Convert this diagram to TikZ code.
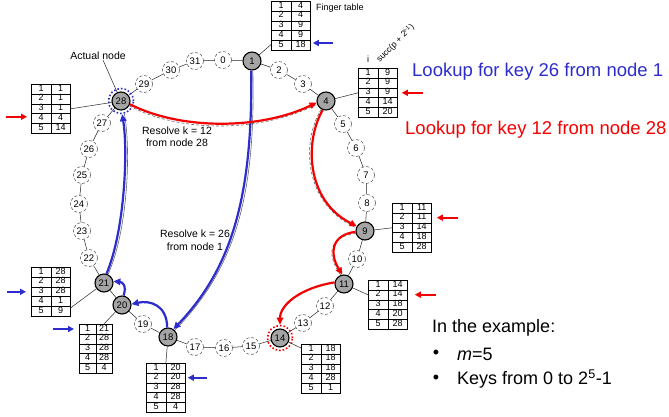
\documentclass[tikz,border=0pt]{standalone}
\usepackage{fontspec}
\setmainfont{Liberation Sans}
\usepackage{array}
\usetikzlibrary{arrows.meta}
\definecolor{lkblue}{RGB}{45,45,205}
\definecolor{lkred}{RGB}{245,0,0}
\definecolor{nodegray}{RGB}{165,165,165}
\newlength\ftw
\setlength\ftw{15pt}
\newcolumntype{C}{w{c}{\ftw}}
\newcommand\FT[5]{{\setlength\tabcolsep{2pt}\setlength\arrayrulewidth{0.6pt}\fontsize{9}{9.2}\selectfont
\begin{tabular}{|C|C|}\hline 1&#1\\\hline 2&#2\\\hline 3&#3\\\hline 4&#4\\\hline 5&#5\\\hline\end{tabular}}}
\tikzset{
  ringnode/.style={circle,draw=black!80,densely dashed,line width=0.45pt,fill=white,minimum size=17pt,inner sep=0pt,font=\fontsize{9.5}{9.5}\selectfont},
  realnode/.style={circle,draw=black,line width=1.1pt,fill=nodegray,minimum size=18pt,inner sep=0pt,font=\fontsize{9.5}{9.5}\selectfont},
  ringline/.style={draw=black!85,line width=0.5pt},
  ftab/.style={inner sep=0pt,outer sep=0pt},
  tabline/.style={draw=black!85,line width=0.5pt},
  bluepath/.style={draw=lkblue,line width=2.2pt,-{Triangle[length=7pt,width=6.5pt]}},
  redpath/.style={draw=lkred,line width=2.2pt,-{Triangle[length=7pt,width=6.5pt]}},
  graycomp/.style={draw=black!60,line width=0.6pt},
  graydash/.style={draw=black!60,line width=0.6pt,dashed,dash pattern=on 3pt off 2pt},
  sidearrow/.style={line width=1.8pt,-{Triangle[length=6pt,width=6pt]}},
  lbl/.style={inner sep=0pt,font=\fontsize{10.5}{12}\selectfont,align=center},
  big/.style={inner sep=0pt,font=\fontsize{18.5}{20}\selectfont},
}
\begin{document}
\begin{tikzpicture}[x=1pt,y=-1pt]
\fill[white] (0,0) rectangle (669,417);
\useasboundingbox (0,0) rectangle (669,417);

% ring nodes
\foreach \i/\x/\y in {0/223/60,2/279/70,3/303/84,5/343/124,6/356/148,7/366/175,8/367/203,10/357/259,12/325/306,13/303/323,15/251/346,16/224/348,17/195/347,19/143/324,22/89/258,23/82/231,24/79/204,25/82/175,26/89/149,27/102/123,29/144/84,30/171/70,31/195/61}
  \node[ringnode] (n\i) at (\x,\y) {\i};
\foreach \i/\x/\y in {1/252/61,4/326/101,9/365/231,11/344/284,14/280/338,18/168/337,20/122/305,21/104/283,28/121/101}
  \node[realnode] (n\i) at (\x,\y) {\i};
\foreach \a [evaluate=\a as \b using {int(mod(\a+1,32))}] in {0,...,31}
  \draw[ringline] (n\a) -- (n\b);

% dotted rings
\node[circle,draw=lkblue,dotted,line width=1.6pt,minimum size=25pt,inner sep=0pt] (r28) at (n28) {};
\node[circle,draw=lkred,dotted,line width=1.6pt,minimum size=25pt,inner sep=0pt] (r14) at (n14) {};

% finger tables
\node[ftab,anchor=north west] (t1) at (271,1) {\FT{4}{4}{9}{9}{18}};
\node[ftab,anchor=north west] (t28) at (31,84) {\FT{1}{1}{1}{4}{14}};
\node[ftab,anchor=north west] (t4) at (358,68) {\FT{9}{9}{9}{14}{20}};
\node[ftab,anchor=north west] (t21) at (31,267) {\FT{28}{28}{28}{1}{9}};
\node[ftab,anchor=north west] (t20) at (79,324) {\setlength\ftw{12pt}\FT{21}{28}{28}{28}{4}};
\node[ftab,anchor=north west] (t18) at (146,363) {\FT{20}{20}{28}{28}{4}};
\node[ftab,anchor=north west] (t14) at (301,344) {\FT{18}{18}{18}{28}{1}};
\node[ftab,anchor=north west] (t11) at (368,280) {\FT{14}{14}{18}{20}{28}};
\node[ftab,anchor=north west] (t9) at (392,203) {\FT{11}{11}{14}{18}{28}};

\draw[tabline] (n1) -- ([yshift=6pt]t1.south west);
\draw[tabline] (n28) -- (t28.east);
\draw[tabline] (n4) -- (t4.west);
\draw[tabline] (n21) -- ([yshift=-16pt]t21.east);
\draw[tabline] (n20) -- ([xshift=8pt]t20.north);
\draw[tabline] (n18) -- (t18.north);
\draw[tabline] (n14) -- ([yshift=-4pt]t14.north west);
\draw[tabline] (n11) -- ([yshift=10pt]t11.west);
\draw[tabline] (n9) -- (t9.west);

% labels near tables
\node[inner sep=0pt,anchor=west,font=\fontsize{9}{10}\selectfont] (ftl) at (316,8) {Finger table};
\node[inner sep=0pt,font=\fontsize{9}{10}\selectfont] (il) at (368,59) {i};
\node[inner sep=0pt,anchor=south west,rotate=45,font=\fontsize{8.5}{10}\selectfont] (sl) at (381,64) {succ(p + 2\textsuperscript{i-1})};
\node[inner sep=0pt,font=\fontsize{10.5}{12}\selectfont] (actual) at (98,56) {Actual node};
\draw[tabline] ([xshift=5pt]actual.south) -- (n28);

% side arrows
\draw[sidearrow,lkblue] ([xshift=22pt,yshift=7.6pt]t1.south east) -- ([xshift=2pt,yshift=7.6pt]t1.south east);
\draw[sidearrow,lkred] ([xshift=-25pt,yshift=-8pt]t28.west) -- ([xshift=-4pt,yshift=-8pt]t28.west);
\draw[sidearrow,lkred] ([xshift=25pt]t4.east) -- ([xshift=4pt]t4.east);
\draw[sidearrow,lkblue] ([xshift=-24pt]t21.west) -- ([xshift=-5pt]t21.west);
\draw[sidearrow,lkblue] ([xshift=-26pt,yshift=-5pt]t20.north west) -- ([xshift=-5pt,yshift=-5pt]t20.north west);
\draw[sidearrow,lkblue] ([xshift=21pt,yshift=-14.7pt]t18.north east) -- ([xshift=2pt,yshift=-14.7pt]t18.north east);
\draw[sidearrow,lkred] ([xshift=28pt,yshift=-14.7pt]t11.north east) -- ([xshift=7pt,yshift=-14.7pt]t11.north east);
\draw[sidearrow,lkred] ([xshift=26pt,yshift=-14.7pt]t9.north east) -- ([xshift=5pt,yshift=-14.7pt]t9.north east);

% companion lines
\draw[graycomp] (n1.-85) .. controls (256,200) and (233,271) .. (n18.45);
\draw[graycomp] (n21.65) .. controls (128,230) and (131,150) .. (r28.-75);
\draw[graydash] (n28.-30) .. controls (180,133) and (260,133) .. (n4.200);
\draw[graydash] (n4.-120) .. controls (302,140) and (302,203) .. (n9.160);
\draw[graydash] (n9.195) .. controls (327,237) and (327,256) .. (n11.110);

% lookup paths
\draw[bluepath] (n1.-95) .. controls (253,200) and (230,270) .. (n18.55);
\draw[bluepath] (n18.95) .. controls (167,305) and (150,300) .. (n20.5);
\draw[bluepath] (n20.80) .. controls (127,285) and (122,282) .. (n21.10);
\draw[bluepath] (n21.75) .. controls (125,230) and (128,150) .. (r28.-85);
\draw[redpath] (n28.-20) .. controls (180,130) and (260,130) .. (n4.190);
\draw[redpath] (n4.-110) .. controls (305,140) and (305,200) .. (n9.150);
\draw[redpath] (n9.185) .. controls (330,235) and (330,255) .. (n11.100);
\draw[redpath] (n11.170) .. controls (300,288) and (280,305) .. (r14.90);

% resolve labels
\node[lbl] (res12) at (177,137) {Resolve k = 12\\from node 28};
\node[lbl,font=\fontsize{10.5}{13}\selectfont] (res26) at (195,240) {Resolve k = 26\\from node 1};

% headline texts
\node[big,anchor=west,text=lkblue] (lk26) at (412,72) {Lookup for key 26 from node 1};
\node[big,anchor=west,text=lkred] (lk12) at (405,130) {Lookup for key 12 from node 28};

\node[big,anchor=west,font=\fontsize{18}{20}\selectfont] (ex) at (432,328) {In the example:};
\node[big,font=\fontsize{18}{20}\selectfont] (b1) at (436,354) {•};
\node[big,font=\fontsize{18}{20}\selectfont] (b2) at (436,379) {•};
\node[big,anchor=west,font=\fontsize{18}{20}\selectfont] (m5) at (457,354) {\textit{m}=5};
\node[big,anchor=west,font=\fontsize{18}{20}\selectfont] (keys) at (457,379) {Keys from 0 to 2\textsuperscript{5}-1};
\end{tikzpicture}
\end{document}
